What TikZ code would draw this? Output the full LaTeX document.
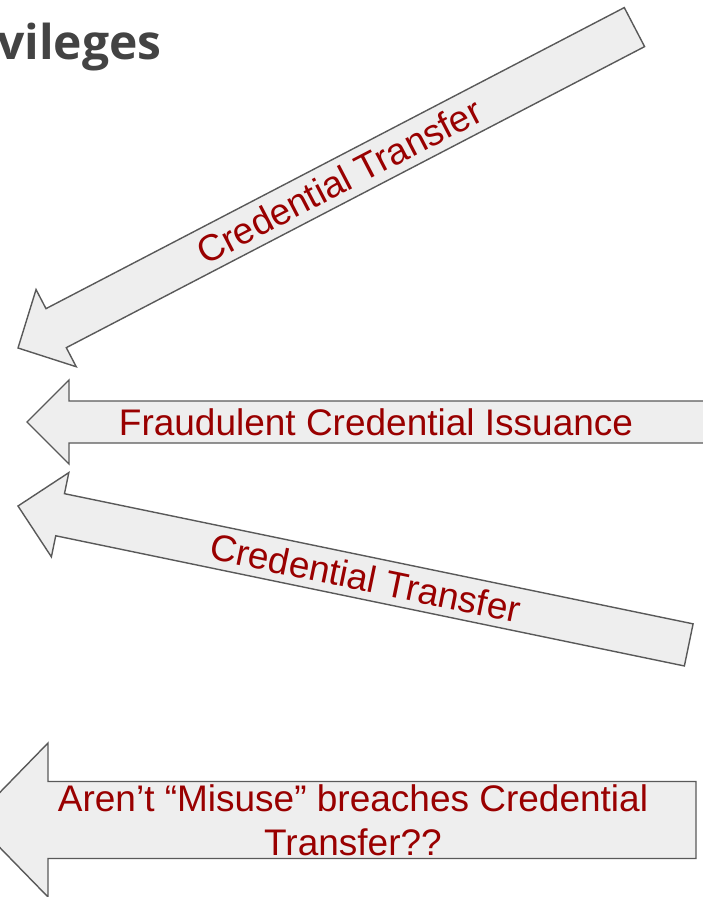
\documentclass[tikz,border=0pt]{standalone}
\usepackage{fontspec}
\setmainfont{Liberation Sans}
\newfontfamily\titlefont{Open Sans}
\usepackage{xcolor}
\usetikzlibrary{positioning}
\definecolor{SlideRed}{HTML}{990000}
\definecolor{SlideGrey}{HTML}{434343}
\definecolor{ArrowFill}{HTML}{EEEEEE}
\definecolor{ArrowLine}{HTML}{595959}

\begin{document}
\begin{tikzpicture}[x=1pt, y=-1pt,
        % Style khối mũi tên
        blockarrow/.style={draw=ArrowLine, fill=ArrowFill, line width=1.4pt, line join=miter},
        % Style chữ
        arrowtext/.style={text=SlideRed, font=\fontsize{37}{44}\selectfont, inner sep=0pt, align=center},
        titletext/.style={text=SlideGrey, font=\titlefont\bfseries\fontsize{48}{56}\selectfont, inner sep=0pt, anchor=base west}
    ]
    \useasboundingbox (0,0) rectangle (702,897);

    % --- TIÊU ĐỀ ---
    \node[titletext] (title) at (-3,59) {vileges};

    % --- MŨI TÊN 1 (chéo lên) ---
    \begin{scope}[shift={(18,348)}, rotate=27.5]
        \draw[blockarrow] (0,0) -- (43,43.5) -- (43,22) -- (695,22) -- (695,-22) -- (43,-22) -- (43,-43.5) -- cycle;
        \coordinate (c1) at (362,0);
    \end{scope}
    \node[arrowtext, rotate=27.5] (transferA) at (c1) {Credential Transfer};

    % --- MŨI TÊN 2 (ngang) ---
    \begin{scope}[shift={(27,422)}]
        \draw[blockarrow] (0,0) -- (42,-42) -- (42,-21) -- (700,-21) -- (700,21) -- (42,21) -- (42,42) -- cycle;
        \coordinate (c2) at (349,0);
    \end{scope}
    \node[arrowtext] (issuance) at (c2) {Fraudulent Credential Issuance};

    % --- MŨI TÊN 3 (hơi nghiêng) ---
    \begin{scope}[shift={(18,506)}, rotate=-11.7]
        \draw[blockarrow] (0,0) -- (43,43) -- (43,21.5) -- (685,21.5) -- (685,-21.5) -- (43,-21.5) -- (43,-43) -- cycle;
        \coordinate (c3) at (355,0);
    \end{scope}
    \node[arrowtext, rotate=-11.7] (transferB) at (c3) {Credential Transfer};

    % --- MŨI TÊN 4 (câu hỏi) ---
    \begin{scope}[shift={(-27,820)}]
        \draw[blockarrow] (0,0) -- (75,-77) -- (75,-38.5) -- (723,-38.5) -- (723,38.5) -- (75,38.5) -- (75,77) -- cycle;
        \coordinate (c4) at (380,0);
    \end{scope}
    \node[arrowtext] (misuse) at (c4) {Aren’t “Misuse” breaches Credential\\Transfer??};

\end{tikzpicture}
\end{document}
